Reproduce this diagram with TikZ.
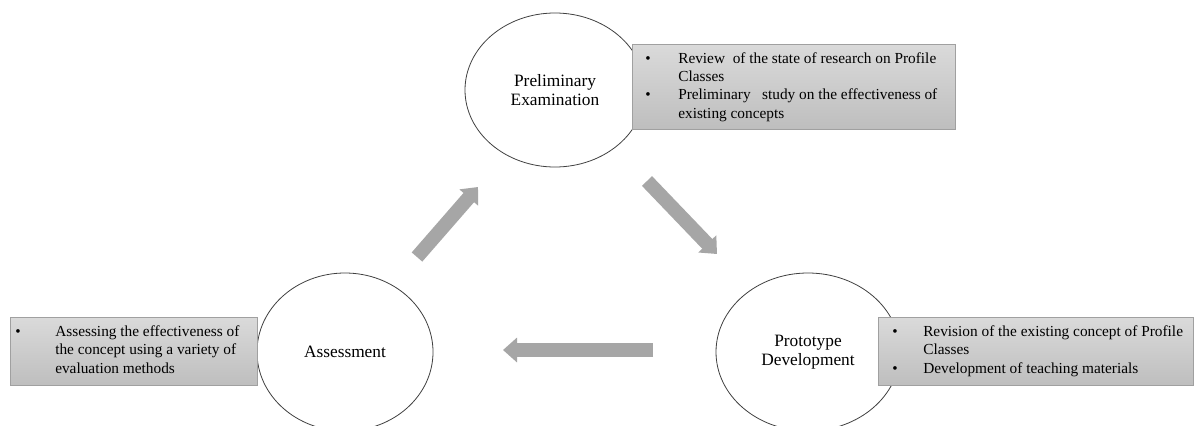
\documentclass[tikz,border=0pt]{standalone}
\usepackage{fontspec}
\setmainfont{Liberation Serif}
\usetikzlibrary{shapes.geometric,arrows.meta,shadows}
\definecolor{arrgray}{HTML}{A6A6A6}
\definecolor{edgegray}{HTML}{404040}
\definecolor{boxedge}{HTML}{A0A0A0}
\definecolor{boxtop}{HTML}{DADADA}
\definecolor{boxbot}{HTML}{BEBEBE}
\begin{document}
\begin{tikzpicture}[x=0.75pt,y=-0.75pt,
  phase/.style={ellipse,draw=edgegray,line width=0.6pt,fill=white,inner sep=0pt,align=center,font=\fontsize{13}{14.5}\selectfont},
  infobox/.style={rectangle,draw=boxedge,line width=0.5pt,top color=boxtop,bottom color=boxbot,inner sep=0pt,anchor=north west,
    drop shadow={shadow xshift=0.8pt,shadow yshift=-0.8pt,opacity=0.2}},
  infotext/.style={anchor=west,inner sep=0pt,align=left,font=\fontsize{11.5}{13.8}\selectfont},
  flow/.style={draw=arrgray,line width=10.5pt,-{Triangle[width=18pt,length=10.5pt]}}]
\useasboundingbox (0,0) rectangle (1194,425);
\clip (0,0) rectangle (1194,425);
\fill[white] (0,0) rectangle (1194,425);

% phases
\node[phase,minimum width=135pt,minimum height=115.5pt] (pre) at (555,90) {Preliminary\\Examination};
\node[phase,minimum width=132pt,minimum height=118.5pt] (ass) at (345,352) {Assessment};
\node[phase,minimum width=138pt,minimum height=118.5pt] (pro) at (808,352) {Prototype\\Development};

% info boxes
\node[infobox,minimum width=242.25pt,minimum height=63.75pt] (prebox) at (632,44) {};
\node[infotext] (pretext) at (645,87) {\begin{tabular}{@{}p{24.75pt}@{}l@{}}
\textbullet & Review\ \ of the state of research on Profile\\
 & Classes\\
\textbullet & Preliminary\ \ \ study on the effectiveness of\\
 & existing concepts
\end{tabular}};

\node[infobox,minimum width=185.25pt,minimum height=51pt] (assbox) at (10,317) {};
\node[infotext] (asstext) at (15,351) {\begin{tabular}{@{}p{30pt}@{}l@{}}
\textbullet & Assessing the effectiveness of\\
 & the concept using a variety of\\
 & evaluation methods
\end{tabular}};

\node[infobox,minimum width=236.25pt,minimum height=51pt] (probox) at (878,317) {};
\node[infotext] (protext) at (892,351) {\begin{tabular}{@{}p{23.25pt}@{}l@{}}
\textbullet & Revision of the existing concept of Profile\\
 & Classes\\
\textbullet & Development of teaching materials
\end{tabular}};

% flow arrows
\coordinate (a1s) at (417,257);
\coordinate (a1e) at (478,187);
\coordinate (a2s) at (647,181);
\coordinate (a2e) at (717,254);
\coordinate (a3s) at (653,350);
\coordinate (a3e) at (503,350);
\draw[flow] (a1s) -- (a1e);
\draw[flow] (a2s) -- (a2e);
\draw[flow] (a3s) -- (a3e);
\end{tikzpicture}
\end{document}
